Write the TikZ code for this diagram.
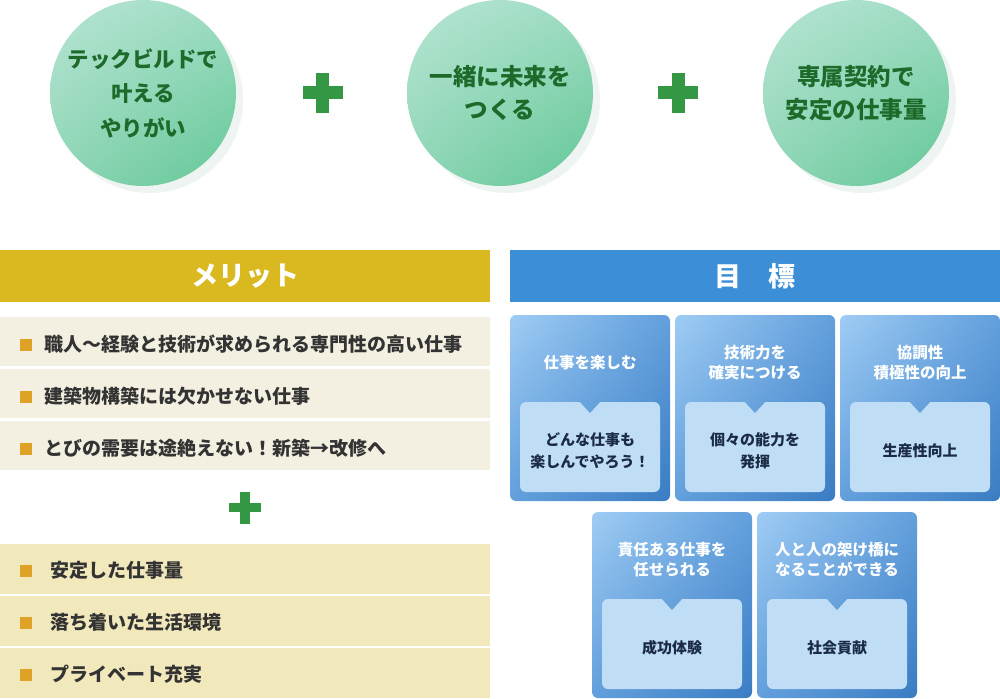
\documentclass[tikz,border=0pt]{standalone}
\usepackage{fontspec}
\usetikzlibrary{shadings}
\setmainfont{Noto Sans CJK JP}
\definecolor{cirA}{HTML}{B8E5D3}
\definecolor{cirB}{HTML}{9EDCC3}
\definecolor{cirC}{HTML}{8ED5B6}
\definecolor{cirD}{HTML}{62C795}
\definecolor{cirshadow}{HTML}{EEF4F1}
\definecolor{cirtext}{HTML}{1D6A2B}
\definecolor{plusgreen}{HTML}{339744}
\definecolor{meritbar}{HTML}{D9B91F}
\definecolor{goalbar}{HTML}{3C8FD7}
\definecolor{rowA}{HTML}{F4F0E1}
\definecolor{rowB}{HTML}{F1E8BC}
\definecolor{bulletcol}{HTML}{DDA226}
\definecolor{listtext}{HTML}{333333}
\definecolor{gA}{HTML}{9FCCF4}
\definecolor{gB}{HTML}{629FDC}
\definecolor{gC}{HTML}{3A7CC3}
\definecolor{ginner}{HTML}{C0DDF6}
\definecolor{gtext}{HTML}{1B2B44}
\tikzset{
  circ/.style={circle,minimum size=186pt,inner sep=0pt,
    upper left=cirA,upper right=cirB,lower left=cirC,lower right=cirD,
    text=cirtext,align=center,font=\fontsize{21.5}{34.5}\selectfont\bfseries},
  circbig/.style={circ,font=\fontsize{23.5}{33}\selectfont\bfseries},
  header/.style={minimum width=490pt,minimum height=52pt,inner sep=0pt,
    text=white,font=\fontsize{27}{27}\selectfont\bfseries},
  rowbox/.style={minimum width=490pt,minimum height=49pt,inner sep=0pt,anchor=north west},
  bulletsq/.style={minimum size=12pt,inner sep=0pt,fill=bulletcol},
  listitem/.style={anchor=west,inner sep=0pt,text=listtext,font=\fontsize{19}{19}\selectfont\bfseries},
  goalshade/.style={upper left=gA,upper right=gB,lower left=gB,lower right=gC},
  goaltitle/.style={text=white,align=center,inner sep=0pt,font=\fontsize{15.5}{20}\selectfont\bfseries},
  goaltext/.style={text=gtext,align=center,inner sep=0pt,font=\fontsize{15}{22}\selectfont\bfseries},
  plusbar/.style={fill=plusgreen}
}
\newcommand{\goalcard}[5]{%
  \shade[goalshade,rounded corners=6pt] (#2,#3) rectangle ++(160,186);
  \fill[ginner,rounded corners=6pt] (#2+10,#3+87) rectangle ++(140,90);
  \begin{scope}
    \clip (#2+69,#3+86) -- (#2+80,#3+98) -- (#2+91,#3+86) -- cycle;
    \shade[goalshade] (#2,#3) rectangle ++(160,186);
  \end{scope}
  \node[goaltitle] (#1t) at (#2+80,#3+47.5) {#4};
  \node[goaltext] (#1i) at (#2+80,#3+135.5) {#5};
}
\begin{document}
\begin{tikzpicture}[x=1pt,y=-1pt]
\useasboundingbox (0,0) rectangle (1000,698);
\fill[white] (0,0) rectangle (1000,698);
% circles
\foreach \cx in {143,500,856} {\fill[cirshadow] (\cx+7,100) circle (93);}
\node[circ,shade] (c1) at (143,93) {テックビルドで\\叶える\\やりがい};
\node[circbig,shade] (c2) at (500,93) {一緒に未来を\\つくる};
\node[circbig,shade] (c3) at (856,93) {専属契約で\\安定の仕事量};
% plus signs
\foreach \px in {322.5,678} {
  \fill[plusbar] (\px-20,86.5) rectangle (\px+20,99.5);
  \fill[plusbar] (\px-6.5,73) rectangle (\px+6.5,113);
}
\fill[plusbar] (229,503) rectangle (261,511.5);
\fill[plusbar] (240,491.5) rectangle (250,523.5);
% headers
\node[header,fill=meritbar] (merit) at (245,276) {メリット};
\node[header,fill=goalbar] (goal) at (755,276) {目　標};
% merit rows
\node[rowbox,fill=rowA] (r1) at (0,317) {};
\node[rowbox,fill=rowA] (r2) at (0,369) {};
\node[rowbox,fill=rowA] (r3) at (0,421) {};
\node[rowbox,fill=rowB,minimum height=50pt] (r4) at (0,544) {};
\node[rowbox,fill=rowB,minimum height=50pt] (r5) at (0,596) {};
\node[rowbox,fill=rowB,minimum height=50pt] (r6) at (0,648) {};
\node[bulletsq] (b1) at (26,344.5) {};
\node[bulletsq] (b2) at (26,396.5) {};
\node[bulletsq] (b3) at (26,448.5) {};
\node[bulletsq] (b4) at (26,571) {};
\node[bulletsq] (b5) at (26,623) {};
\node[bulletsq] (b6) at (26,675) {};
\node[listitem] (t1) at (44,344) {職人〜経験と技術が求められる専門性の高い仕事};
\node[listitem] (t2) at (44,396) {建築物構築には欠かせない仕事};
\node[listitem] (t3) at (44,448) {とびの需要は途絶えない！新築→改修へ};
\node[listitem] (t4) at (50,570) {安定した仕事量};
\node[listitem] (t5) at (50,622) {落ち着いた生活環境};
\node[listitem] (t6) at (50,674) {プライベート充実};
% goal cards
\goalcard{g1}{510}{315}{仕事を楽しむ}{どんな仕事も\\楽しんでやろう！}
\goalcard{g2}{675}{315}{技術力を\\確実につける}{個々の能力を\\発揮}
\goalcard{g3}{840}{315}{協調性\\積極性の向上}{生産性向上}
\goalcard{g4}{592}{512}{責任ある仕事を\\任せられる}{成功体験}
\goalcard{g5}{757}{512}{人と人の架け橋に\\なることができる}{社会貢献}
\end{tikzpicture}
\end{document}
